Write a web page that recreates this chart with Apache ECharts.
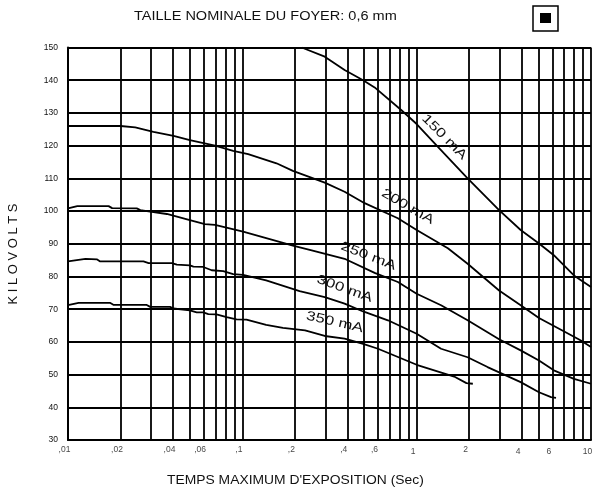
<!DOCTYPE html>
<html>
<head>
<meta charset="utf-8">
<style>
  html, body { margin: 0; padding: 0; background: #fff; }
  #chart { width: 592px; height: 492px; }
</style>
<script src="https://cdn.jsdelivr.net/npm/echarts@6/dist/echarts.min.js"></script>
</head>
<body>
<div id="chart"></div>
<script>
// curves: [time in s, kV]
const ma150 = [[0.219,150],[0.297,147.2],[0.386,143.1],[0.493,140],[0.574,137.8],[0.815,130.9],[1,126.6],[1.32,119.7],[1.96,110],[2.97,100.3],[3.95,94.2],[5.03,90.1],[6.12,86.5],[7.98,80.3],[10,76.8]];
const ma200 = [[0.01,126],[0.02,126],[0.0243,125.6],[0.0309,124.2],[0.0403,123],[0.05,121.7],[0.0697,120],[0.0886,118.4],[0.108,117.4],[0.157,114.6],[0.195,112.3],[0.297,108.7],[0.386,105.9],[0.503,102.4],[0.78,97.8],[1,94.2],[1.51,88.6],[1.96,83.9],[2.97,75.7],[3.95,71.2],[5.03,67.3],[6.85,63.5],[8.7,60.5],[10,58.4]];
const ma250 = [[0.01,100.8],[0.0113,101.5],[0.0171,101.5],[0.0179,100.9],[0.0248,100.8],[0.026,100.3],[0.0296,99.8],[0.0369,99.1],[0.05,97.2],[0.061,96],[0.0697,95.8],[0.101,93.7],[0.195,89.4],[0.25,88],[0.386,85.4],[0.574,81.1],[0.78,78.3],[1,74.7],[1.38,71.2],[1.96,66.6],[2.97,60.8],[3.95,57.4],[5.03,54.3],[6.12,51.3],[7.98,48.7],[10,47.2]];
const ma300 = [[0.01,84.6],[0.0126,85.4],[0.0147,85.2],[0.0153,84.6],[0.0271,84.6],[0.029,84.1],[0.0394,84.1],[0.0421,83.6],[0.05,83.4],[0.0524,83],[0.0597,82.9],[0.0667,81.9],[0.0777,81.6],[0.0886,80.7],[0.101,80.5],[0.137,78.8],[0.213,75.5],[0.297,73.7],[0.386,71.7],[0.493,69.3],[0.684,66.6],[1,62.5],[1.38,57.9],[1.96,55.3],[2.55,52.3],[3.95,47.7],[5.03,44.6],[5.9,43.1],[6.3,42.9]];
const ma350 = [[0.01,71.2],[0.0115,71.9],[0.0175,71.9],[0.0183,71.3],[0.0283,71.3],[0.0296,70.7],[0.0385,70.7],[0.0403,70.2],[0.05,69.6],[0.0547,69],[0.0597,69],[0.0638,68.5],[0.0711,68.4],[0.0812,67.6],[0.0926,66.9],[0.1056,66.8],[0.137,65.2],[0.171,64.3],[0.229,63.5],[0.297,61.8],[0.386,61],[0.493,59.4],[0.6,57.9],[1,53],[1.64,49.4],[1.93,47.4],[2.1,47.2]];

const gridTimes = [0.02,0.03,0.04,0.05,0.06,0.07,0.08,0.09,0.1,0.2,0.3,0.4,0.5,0.6,0.7,0.8,0.9,1,2,3,4,5,6,7,8,9,10];
const longTicks = [0.05, 5];

const upperTimes = [0.01,0.02,0.04,0.06,0.1,0.2,0.4,0.6,2];
const upperLabels = [",01",",02",",04",",06",",1",",2",",4",",6","2"];
const lowerTimes = [1,4,6,10];
const lowerLabels = ["1","4","6","10"];

const curveNames = ["150 mA","200 mA","250 mA","300 mA","350 mA"];
const curveLabelAt = [[1.44,122.6],[0.89,101.3],[0.529,86.2],[0.386,76.2],[0.339,66]];
const curveLabelAngle = [-45,-30,-21,-20,-13];

const font = "Liberation Sans";
const chart = echarts.init(document.getElementById("chart"));

function curve(name, data, extra) {
  return Object.assign({
    name: name,
    type: "line",
    data: data,
    showSymbol: false,
    symbol: "none",
    animation: false,
    silent: true,
    lineStyle: { color: "#000", width: 1.8 }
  }, extra);
}

function tickLabels(times, labels, offsetY) {
  return {
    type: "scatter",
    symbolSize: 1,
    itemStyle: { color: "rgba(0,0,0,0)" },
    silent: true,
    animation: false,
    clip: false,
    data: times.map((t, i) => ({
      value: [t, 30],
      label: {
        show: true,
        position: "bottom",
        distance: 0,
        formatter: labels[i],
        offset: [-3.5, offsetY],
        color: "#111",
        fontFamily: font,
        fontSize: 8.5
      }
    }))
  };
}

const gridLines = gridTimes.map(t => [{ coord: [t, 30] }, { coord: [t, 150] }])
  .concat(longTicks.map(t => [{ coord: [t, 29.3] }, { coord: [t, 30] }]));

chart.setOption({
  animation: false,
  grid: { left: 68, top: 47.5, width: 523, height: 392.5 },
  xAxis: {
    type: "log",
    logBase: 10,
    min: 0.01,
    max: 10,
    axisLine: { lineStyle: { color: "#000", width: 2 } },
    axisTick: { show: false },
    axisLabel: { show: false },
    splitLine: { show: false },
    minorTick: { show: false }
  },
  yAxis: {
    type: "value",
    min: 30,
    max: 150,
    interval: 10,
    axisLine: { show: true, onZero: false, lineStyle: { color: "#000", width: 2 } },
    axisTick: { show: false },
    axisLabel: { color: "#111", fontFamily: font, fontSize: 8.5, margin: 10 },
    splitLine: { show: true, lineStyle: { color: "#000", width: 1.8 } }
  },
  graphic: [
    { type: "text", x: 134, y: 11, scaleX: 1.21, style: { text: "TAILLE NOMINALE DU FOYER: 0,6 mm", fontFamily: font, fontSize: 12, fill: "#111" } },
    { type: "text", x: 167, y: 475, scaleX: 1.155, style: { text: "TEMPS MAXIMUM D'EXPOSITION (Sec)", fontFamily: font, fontSize: 12, fill: "#111" } },
    { type: "text", x: 14, y: 254, rotation: Math.PI / 2, scaleX: 1.08, style: { text: "K I L O V O L T S", fontFamily: font, fontSize: 12, fill: "#111", align: "center", verticalAlign: "middle" } },
    { type: "rect", shape: { x: 533, y: 6, width: 25, height: 25 }, style: { fill: "#fff", stroke: "#000", lineWidth: 1.5 } },
    { type: "rect", shape: { x: 540, y: 13, width: 11, height: 10 }, style: { fill: "#000" } }
  ],
  series: [
    curve(curveNames[0], ma150, {
      markLine: {
        silent: true,
        animation: false,
        symbol: ["none", "none"],
        label: { show: false },
        emphasis: { disabled: true },
        lineStyle: { color: "#000", width: 1.8, type: "solid" },
        data: gridLines
      }
    }),
    curve(curveNames[1], ma200),
    curve(curveNames[2], ma250),
    curve(curveNames[3], ma300),
    curve(curveNames[4], ma350),
    tickLabels(upperTimes, upperLabels, 5),
    tickLabels(lowerTimes, lowerLabels, 7),
    {
      type: "custom",
      silent: true,
      animation: false,
      clip: false,
      data: curveLabelAt,
      renderItem: function (params, api) {
        const p = api.coord([api.value(0), api.value(1)]);
        return {
          type: "text",
          x: p[0],
          y: p[1],
          rotation: curveLabelAngle[params.dataIndex] * Math.PI / 180,
          scaleX: 1.3,
          style: {
            text: curveNames[params.dataIndex],
            fontFamily: font,
            fontSize: 13,
            fill: "#111",
            align: "center",
            verticalAlign: "middle"
          }
        };
      }
    }
  ]
});
</script>
</body>
</html>
